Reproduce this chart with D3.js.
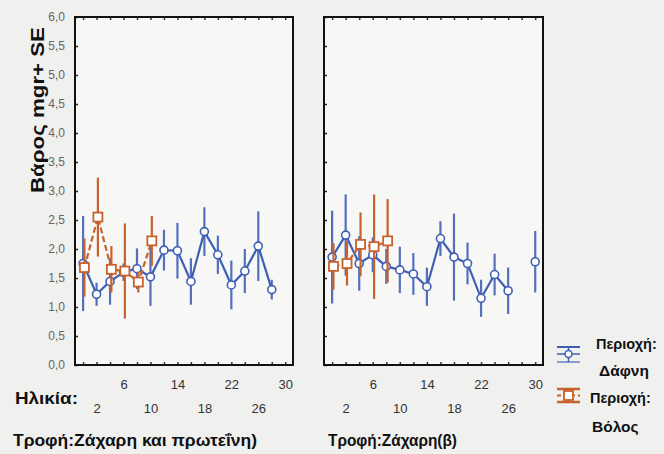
<!DOCTYPE html>
<html>
<head>
<meta charset="utf-8">
<script src="https://cdn.jsdelivr.net/npm/d3@7"></script>
<style>
  html, body { margin: 0; padding: 0; background: #f0f0ef; }
  svg { display: block; }
  text { font-family: "Liberation Sans", Arial, sans-serif; }
</style>
</head>
<body>
<svg id="chart" width="664" height="454"></svg>
<script>
// ---------------- DATA ----------------
const yTicks = [0, 0.5, 1, 1.5, 2, 2.5, 3, 3.5, 4, 4.5, 5, 5.5, 6];
const ageTicksTop = [6, 14, 22, 30];
const ageTicksBottom = [2, 10, 18, 26];
const minorAges = [0, 2, 4, 6, 8, 10, 12, 14, 16, 18, 20, 22, 24, 26, 28, 30];

// Left panel: Τροφή: Ζάχαρη και πρωτεΐνη
const leftDafniAges = [0, 2, 4, 6, 8, 10, 12, 14, 16, 18, 20, 22, 24, 26, 28];
const leftDafniMean = [1.75, 1.22, 1.44, 1.6, 1.66, 1.52, 1.98, 1.97, 1.44, 2.3, 1.9, 1.38, 1.62, 2.05, 1.3];
const leftDafniSE   = [0.82, 0.2, 0.4, 0.15, 0.35, 0.5, 0.35, 0.48, 0.4, 0.42, 0.33, 0.42, 0.38, 0.6, 0.17];

const leftVolosAges = [0, 2, 4, 6, 8, 10];
const leftVolosMean = [1.68, 2.55, 1.65, 1.62, 1.43, 2.14];
const leftVolosSE   = [0.5, 0.68, 0.4, 0.82, 0.18, 0.43];

// Right panel: Τροφή: Ζάχαρη(β)
const rightDafniAges = [0, 2, 4, 6, 8, 10, 12, 14, 16, 18, 20, 22, 24, 26, 28, 30];
const rightDafniMean = [1.86, 2.24, 1.75, 1.9, 1.7, 1.64, 1.57, 1.35, 2.18, 1.86, 1.75, 1.15, 1.56, 1.28, null, 1.78];
const rightDafniSE   = [0.8, 0.7, 0.47, 0.3, 0.3, 0.4, 0.36, 0.33, 0.3, 0.75, 0.36, 0.32, 0.36, 0.4, null, 0.53];

const rightVolosAges = [0, 2, 4, 6, 8];
const rightVolosMean = [1.7, 1.75, 2.08, 2.04, 2.14];
const rightVolosSE   = [0.4, 0.38, 0.55, 0.9, 0.72];

const panelTitles = ["Τροφή:Ζάχαρη και πρωτεΐνη)", "Τροφή:Ζάχαρη(β)"];
const seriesNames = ["Περιοχή:", "Δάφνη", "Βόλος"];
const yLabel = "Βάρος mgr+ SE";
const xLabel = "Ηλικία:";

// ---------------- DRAW ----------------
const BLUE = "#3f5fb4";
const BLUE_BAR = "#5470bd";
const ORANGE = "#c8622c";

const svg = d3.select("#chart");
const plotTop = 17, plotBottom = 365;
const y = d3.scaleLinear().domain([0, 6]).range([plotBottom, plotTop]);

const panels = [
  { x0: 75, x1: 293, title: panelTitles[0], showY: true, titleX: 13, titleW: 244,
    dafni: { ages: leftDafniAges, mean: leftDafniMean, se: leftDafniSE },
    volos: { ages: leftVolosAges, mean: leftVolosMean, se: leftVolosSE } },
  { x0: 324, x1: 543, title: panelTitles[1], showY: false, titleX: 328, titleW: 129,
    dafni: { ages: rightDafniAges, mean: rightDafniMean, se: rightDafniSE },
    volos: { ages: rightVolosAges, mean: rightVolosMean, se: rightVolosSE } }
];

function rows(s) {
  return s.ages.map((a, i) => ({ age: a, mean: s.mean[i], se: s.se[i] }));
}

panels.forEach(p => {
  const x = d3.scaleLinear().domain([-1.2, 31.15]).range([p.x0, p.x1]);
  const g = svg.append("g");

  g.append("rect")
    .attr("x", p.x0).attr("y", plotTop)
    .attr("width", p.x1 - p.x0).attr("height", plotBottom - plotTop)
    .attr("fill", "#f7f7f6");

  // y axis ticks (inward)
  const yAx = d3.axisLeft(y).tickValues(yTicks).tickSize(-3).tickPadding(8)
    .tickFormat(d => p.showY ? d.toFixed(1).replace(".", ",") : "");
  const ya = g.append("g").attr("transform", `translate(${p.x0},0)`).call(yAx);
  ya.select(".domain").remove();
  ya.selectAll(".tick line").attr("stroke", "#222").attr("stroke-width", 1.5);
  ya.selectAll(".tick text").attr("fill", "#666").style("font-size", "12px").attr("x", -10);

  // minor x ticks, bottom and top
  const xb = g.append("g").attr("transform", `translate(0,${plotBottom})`)
    .call(d3.axisBottom(x).tickValues(minorAges).tickSize(-3).tickFormat(""));
  xb.select(".domain").remove();
  xb.selectAll(".tick line").attr("stroke", "#333").attr("stroke-width", 1.5);
  const xt = g.append("g").attr("transform", `translate(0,${plotTop})`)
    .call(d3.axisTop(x).tickValues(minorAges).tickSize(-3).tickFormat(""));
  xt.select(".domain").remove();
  xt.selectAll(".tick line").attr("stroke", "#333").attr("stroke-width", 1.5);

  // x labels staggered
  const xl1 = g.append("g").attr("transform", `translate(0,${plotBottom})`)
    .call(d3.axisBottom(x).tickValues(ageTicksTop).tickSize(0).tickPadding(15));
  const xl2 = g.append("g").attr("transform", `translate(0,${plotBottom})`)
    .call(d3.axisBottom(x).tickValues(ageTicksBottom).tickSize(0).tickPadding(39));
  [xl1, xl2].forEach(a => {
    a.select(".domain").remove();
    a.selectAll(".tick text").attr("fill", "#333").style("font-size", "13px");
  });

  // series
  [{ s: p.dafni, c: BLUE, bar: BLUE_BAR, dash: null, shape: "circle", dx: 0 },
   { s: p.volos, c: ORANGE, bar: ORANGE, dash: "6,3", shape: "square", dx: 0.2 }].forEach(cfg => {
    const data = rows(cfg.s);
    const xs = d => x(d.age + cfg.dx);
    const sg = g.append("g");
    sg.selectAll("line.err").data(data.filter(d => d.mean != null)).join("line")
      .attr("class", "err")
      .attr("x1", xs).attr("x2", xs)
      .attr("y1", d => y(d.mean - d.se)).attr("y2", d => y(d.mean + d.se))
      .attr("stroke", cfg.bar).attr("stroke-width", 2.2);
    sg.append("path").datum(data)
      .attr("d", d3.line().defined(d => d.mean != null).x(xs).y(d => y(d.mean)))
      .attr("fill", "none").attr("stroke", cfg.c).attr("stroke-width", 2.2)
      .attr("stroke-dasharray", cfg.dash);
    if (cfg.shape === "circle") {
      sg.selectAll("circle").data(data.filter(d => d.mean != null)).join("circle")
        .attr("cx", xs).attr("cy", d => y(d.mean)).attr("r", 4)
        .attr("fill", "#fff").attr("stroke", cfg.c).attr("stroke-width", 1.6);
    } else {
      sg.selectAll("rect").data(data).join("rect")
        .attr("x", d => xs(d) - 4.5).attr("y", d => y(d.mean) - 4.5)
        .attr("width", 9).attr("height", 9)
        .attr("fill", "#fff").attr("stroke", cfg.c).attr("stroke-width", 1.8);
    }
  });

  // frame
  g.append("rect")
    .attr("x", p.x0).attr("y", plotTop)
    .attr("width", p.x1 - p.x0).attr("height", plotBottom - plotTop)
    .attr("fill", "none").attr("stroke", "#111").attr("stroke-width", 2);

  // panel title
  g.append("text").attr("x", p.titleX).attr("y", 446)
    .attr("fill", "#111").style("font-size", "16px").style("font-weight", "bold")
    .attr("textLength", p.titleW).attr("lengthAdjust", "spacingAndGlyphs")
    .text(p.title);
});

// y label
svg.append("text")
  .attr("transform", "translate(44,110) rotate(-90)")
  .attr("text-anchor", "middle")
  .attr("fill", "#111").style("font-size", "19px").style("font-weight", "bold")
  .attr("textLength", 166).attr("lengthAdjust", "spacingAndGlyphs")
  .text(yLabel);

// x label
svg.append("text").attr("x", 15).attr("y", 404)
  .attr("fill", "#111").style("font-size", "17px").style("font-weight", "bold")
  .attr("textLength", 63).attr("lengthAdjust", "spacingAndGlyphs")
  .text(xLabel);

// legend
const lg = svg.append("g");
// Dafni symbol
lg.append("line").attr("x1", 557).attr("x2", 580).attr("y1", 347).attr("y2", 347).attr("stroke", BLUE).attr("stroke-width", 2);
lg.append("line").attr("x1", 557).attr("x2", 580).attr("y1", 362).attr("y2", 362).attr("stroke", "#8a9bd0").attr("stroke-width", 2);
lg.append("line").attr("x1", 568.5).attr("x2", 568.5).attr("y1", 347).attr("y2", 362).attr("stroke", BLUE).attr("stroke-width", 1.5);
lg.append("line").attr("x1", 557).attr("x2", 580).attr("y1", 354).attr("y2", 354).attr("stroke", BLUE).attr("stroke-width", 1.5);
lg.append("circle").attr("cx", 568.5).attr("cy", 354).attr("r", 3.5).attr("fill", "#fff").attr("stroke", BLUE).attr("stroke-width", 1.5);
lg.append("text").attr("x", 596).attr("y", 349).attr("fill", "#111").style("font-size", "14.5px").style("font-weight", "bold")
  .text(seriesNames[0]);
lg.append("text").attr("x", 599).attr("y", 376).attr("fill", "#111").style("font-size", "15.5px").style("font-weight", "bold")
  .text(seriesNames[1]);
// Volos symbol
lg.append("line").attr("x1", 557).attr("x2", 580).attr("y1", 389).attr("y2", 389).attr("stroke", ORANGE).attr("stroke-width", 2.5);
lg.append("line").attr("x1", 557).attr("x2", 580).attr("y1", 402).attr("y2", 402).attr("stroke", ORANGE).attr("stroke-width", 2.5);
lg.append("line").attr("x1", 557).attr("x2", 580).attr("y1", 395.5).attr("y2", 395.5).attr("stroke", ORANGE).attr("stroke-width", 2).attr("stroke-dasharray", "4,3");
lg.append("line").attr("x1", 568.5).attr("x2", 568.5).attr("y1", 389).attr("y2", 402).attr("stroke", ORANGE).attr("stroke-width", 1.5);
lg.append("rect").attr("x", 564).attr("y", 391).attr("width", 9).attr("height", 9).attr("fill", "#fff").attr("stroke", ORANGE).attr("stroke-width", 1.8);
lg.append("text").attr("x", 590).attr("y", 403).attr("fill", "#111").style("font-size", "14.5px").style("font-weight", "bold")
  .text(seriesNames[0]);
lg.append("text").attr("x", 592).attr("y", 432).attr("fill", "#111").style("font-size", "15.5px").style("font-weight", "bold")
  .text(seriesNames[2]);
</script>
</body>
</html>
